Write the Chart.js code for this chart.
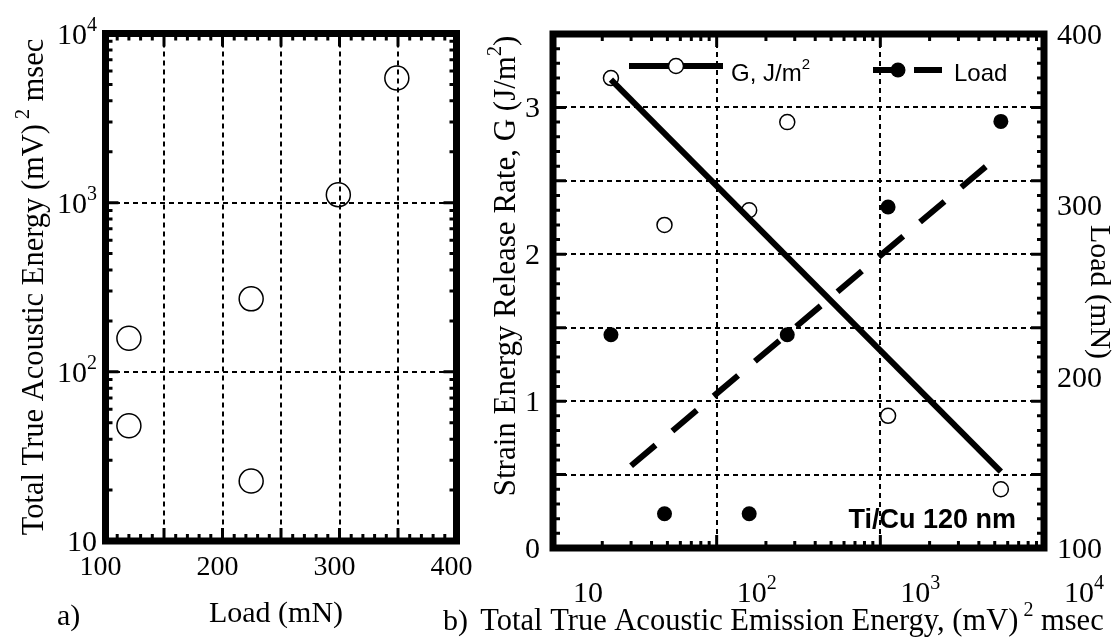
<!DOCTYPE html>
<html>
<head>
<meta charset="utf-8">
<script src="https://cdn.jsdelivr.net/npm/chart.js@4.4.1/dist/chart.umd.min.js"></script>
<style>
  body { margin: 0; background: #fff; width: 1119px; height: 639px; overflow: hidden; position: relative; }
  canvas { position: absolute; left: 0; top: 0; }
</style>
</head>
<body>
<canvas id="energy-chart" width="1119" height="639"></canvas>
<canvas id="g-chart" width="1119" height="639"></canvas>
<script>
// Ti/Cu 120 nm scratch tests
const loadMN = [120, 120, 224.5, 224.5, 299, 349];          // mN
const energy = [158, 48, 270, 22.6, 1115, 5450];            // (mV)^2 msec
const gValues = [2.30, 2.20, 2.90, 3.20, 0.90, 0.40];       // J/m^2

// fitted trends (log energy)
const gFitEnergy = [22.6, 5450];
const gFit = [3.19, 0.52];
const loadFitEnergy = [30, 5000];
const loadFit = [148, 327];

const loadTicks = [100, 200, 300, 400];
const energyTicks = [10, 100, 1000, 10000];
const gTicks = [0, 1, 2, 3];

const SERIF = '"Liberation Serif", "Times New Roman", serif';
const SANS = '"Liberation Sans", Arial, sans-serif';

// text with superscript pieces: parts = [[text, isSup], ...], y is the baseline
function drawRich(ctx, parts, x, y, o) {
  const size = o.size, supSize = o.supSize || Math.round(size * 0.65);
  const rise = o.rise || size * 0.42;
  const font = sup => `${o.weight || ''} ${sup ? supSize : size}px ${o.family}`;
  let width = 0;
  for (const [t, sup] of parts) { ctx.font = font(sup); width += ctx.measureText(t).width; }
  let cx = o.align === 'left' ? x : o.align === 'right' ? x - width : x - width / 2;
  ctx.textAlign = 'left';
  ctx.textBaseline = 'alphabetic';
  for (const [t, sup] of parts) {
    ctx.font = font(sup);
    ctx.fillText(t, cx, sup ? y - rise : y);
    cx += ctx.measureText(t).width;
  }
}

function rotated(ctx, x, y, angle, fn) {
  ctx.save();
  ctx.translate(x, y);
  ctx.rotate(angle);
  fn();
  ctx.restore();
}

function powerLabel(v) {
  if (v === 10) return [['10', false]];
  return [['10', false], [String(Math.round(Math.log10(v))), true]];
}

// inward tick marks: [value, length]
function logTicks(lo, hi, majors) {
  const out = [];
  for (let d = lo; d < hi; d *= 10) {
    for (let m = 1; m < 10; m++) {
      const v = d * m;
      if (v > lo && v < hi) out.push([v, majors.includes(v) ? 13 : 7]);
    }
  }
  return out;
}

function linTicks(lo, hi, step, majorStep) {
  const out = [];
  for (let i = 1; lo + i * step < hi - 1e-9; i++) {
    const v = lo + i * step;
    const r = v / majorStep;
    out.push([v, Math.abs(r - Math.round(r)) < 1e-6 ? 13 : 7]);
  }
  return out;
}

function framePlugin(cfg) {
  return {
    id: 'frame',
    afterDraw(chart) {
      const { ctx, chartArea: a, scales } = chart;
      ctx.save();
      ctx.strokeStyle = '#000';
      ctx.fillStyle = '#000';
      ctx.lineWidth = 3;
      ctx.beginPath();
      for (const [v, len] of cfg.xTicks) {
        const px = scales.x.getPixelForValue(v);
        ctx.moveTo(px, a.bottom); ctx.lineTo(px, a.bottom - len);
        ctx.moveTo(px, a.top); ctx.lineTo(px, a.top + len);
      }
      for (const [v, len] of cfg.yTicks) {
        const py = scales.y.getPixelForValue(v);
        ctx.moveTo(a.left, py); ctx.lineTo(a.left + len, py);
        ctx.moveTo(a.right, py); ctx.lineTo(a.right - len, py);
      }
      ctx.stroke();
      ctx.lineWidth = 7;
      ctx.strokeRect(a.left, a.top, a.right - a.left, a.bottom - a.top);
      cfg.text(ctx, chart);
      ctx.restore();
    }
  };
}

const noTicks = { display: false };
const zeroHeight = s => { s.height = 0; };
const zeroWidth = s => { s.width = 0; };
const dashedGrid = { color: '#000', lineWidth: 2, drawTicks: false };
const gridBorder = { display: false, dash: [5, 4] };

// a) energy vs load
new Chart(document.getElementById('energy-chart'), {
  type: 'scatter',
  data: {
    datasets: [{
      data: loadMN.map((l, i) => ({ x: l, y: energy[i] })),
      pointRadius: 12,
      pointBorderWidth: 1.5,
      pointBorderColor: '#000',
      pointBackgroundColor: 'rgba(0,0,0,0)'
    }]
  },
  options: {
    responsive: false,
    animation: false,
    events: [],
    layout: { padding: { left: 105.5, right: 662.5, top: 33.5, bottom: 98 } },
    plugins: { legend: { display: false }, tooltip: { enabled: false } },
    scales: {
      x: {
        type: 'linear', min: 100, max: 400,
        afterFit: zeroHeight,
        afterBuildTicks: s => { s.ticks = [150, 200, 250, 300, 350].map(value => ({ value })); },
        ticks: noTicks, grid: dashedGrid, border: gridBorder
      },
      y: {
        type: 'logarithmic', min: 10, max: 10000,
        afterFit: zeroWidth,
        afterBuildTicks: s => { s.ticks = [100, 1000].map(value => ({ value })); },
        ticks: noTicks, grid: dashedGrid, border: gridBorder
      }
    }
  },
  plugins: [framePlugin({
    xTicks: linTicks(100, 400, 10, 50),
    yTicks: logTicks(10, 10000, [100, 1000]),
    text(ctx, chart) {
      const { x, y } = chart.scales;
      for (const v of energyTicks) {
        drawRich(ctx, powerLabel(v), 97, y.getPixelForValue(v) + 10, { family: SERIF, size: 30, supSize: 20, rise: 13, align: 'right' });
      }
      for (const v of loadTicks) {
        drawRich(ctx, [[String(v), false]], x.getPixelForValue(v) - 5, 575, { family: SERIF, size: 28 });
      }
      drawRich(ctx, [['Load (mN)', false]], 276, 622, { family: SERIF, size: 30 });
      drawRich(ctx, [['a)', false]], 57, 625, { family: SERIF, size: 30, align: 'left' });
      rotated(ctx, 43, 287, -Math.PI / 2, () => {
        drawRich(ctx, [['Total True Acoustic Energy (mV)', false], [' 2', true], [' msec', false]], 0, 0,
          { family: SERIF, size: 30.5, supSize: 20, rise: 14 });
      });
    }
  })]
});

// b) strain energy release rate and load vs energy
new Chart(document.getElementById('g-chart'), {
  data: {
    datasets: [
      {
        type: 'line', data: gFitEnergy.map((e, i) => ({ x: e, y: gFit[i] })),
        borderColor: '#000', borderWidth: 6, pointRadius: 0, yAxisID: 'y'
      },
      {
        type: 'line', data: loadFitEnergy.map((e, i) => ({ x: e, y: loadFit[i] })),
        borderColor: '#000', borderWidth: 6, borderDash: [32, 22], borderCapStyle: 'butt',
        pointRadius: 0, yAxisID: 'y2'
      },
      {
        type: 'scatter', data: energy.map((e, i) => ({ x: e, y: gValues[i] })),
        pointRadius: 7.5, pointBorderWidth: 1.5, pointBorderColor: '#000',
        pointBackgroundColor: '#fff', yAxisID: 'y'
      },
      {
        type: 'scatter', data: energy.map((e, i) => ({ x: e, y: loadMN[i] })),
        pointRadius: 7.5, pointBorderWidth: 0, pointBackgroundColor: '#000', yAxisID: 'y2'
      }
    ]
  },
  options: {
    responsive: false,
    animation: false,
    events: [],
    layout: { padding: { left: 553, right: 75, top: 34, bottom: 91 } },
    plugins: { legend: { display: false }, tooltip: { enabled: false } },
    scales: {
      x: {
        type: 'logarithmic', min: 10, max: 10000,
        afterFit: zeroHeight,
        afterBuildTicks: s => { s.ticks = [100, 1000].map(value => ({ value })); },
        ticks: noTicks, grid: dashedGrid, border: gridBorder
      },
      y: {
        type: 'linear', position: 'left', min: 0, max: 3.5,
        afterFit: zeroWidth,
        afterBuildTicks: s => { s.ticks = [0.5, 1, 1.5, 2, 2.5, 3].map(value => ({ value })); },
        ticks: noTicks, grid: dashedGrid, border: gridBorder
      },
      y2: {
        type: 'linear', position: 'right', min: 100, max: 400,
        afterFit: zeroWidth,
        ticks: noTicks, grid: { display: false }, border: { display: false }
      }
    }
  },
  plugins: [framePlugin({
    xTicks: logTicks(10, 10000, [100, 1000]),
    yTicks: linTicks(0, 3.5, 0.1, 0.5),
    text(ctx, chart) {
      const { x, y, y2 } = chart.scales;
      const a = chart.chartArea;
      for (const v of gTicks) {
        drawRich(ctx, [[String(v), false]], 540, y.getPixelForValue(v) + 10, { family: SERIF, size: 30, align: 'right' });
      }
      for (const v of loadTicks) {
        drawRich(ctx, [[String(v), false]], 1057, y2.getPixelForValue(v) + 10, { family: SERIF, size: 30, align: 'left' });
      }
      for (const v of energyTicks) {
        // the base "10" is centred a little to the right of each decade
        const px = x.getPixelForValue(v) + 35;
        ctx.font = '30px ' + SERIF;
        const half = ctx.measureText('10').width / 2;
        drawRich(ctx, powerLabel(v), px - half, 602, { family: SERIF, size: 30, supSize: 20, rise: 13, align: 'left' });
      }
      drawRich(ctx, [['b)', false]], 443, 630, { family: SERIF, size: 30, align: 'left' });
      drawRich(ctx, [['Total True Acoustic Emission Energy, (mV)', false], [' 2', true], [' msec', false]], 792, 630,
        { family: SERIF, size: 30.5, supSize: 20, rise: 14 });
      rotated(ctx, 515, 266, -Math.PI / 2, () => {
        drawRich(ctx, [['Strain Energy Release Rate, G (J/m', false], ['2', true], [')', false]], 0, 0,
          { family: SERIF, size: 31, supSize: 20, rise: 14 });
      });
      rotated(ctx, 1091, 292, Math.PI / 2, () => {
        drawRich(ctx, [['Load (mN)', false]], 0, 0, { family: SERIF, size: 30 });
      });

      // legend
      ctx.lineWidth = 6;
      ctx.beginPath();
      ctx.moveTo(629, 66); ctx.lineTo(723, 66);
      ctx.moveTo(873, 70); ctx.lineTo(905, 70);
      ctx.moveTo(914, 70); ctx.lineTo(942, 70);
      ctx.stroke();
      ctx.lineWidth = 1.5;
      ctx.beginPath();
      ctx.arc(676, 66, 7.5, 0, Math.PI * 2);
      ctx.fillStyle = '#fff';
      ctx.fill();
      ctx.stroke();
      ctx.fillStyle = '#000';
      ctx.beginPath();
      ctx.arc(898, 70, 7.5, 0, Math.PI * 2);
      ctx.fill();
      drawRich(ctx, [['G, J/m', false], ['2', true]], 731, 81, { family: SANS, size: 24, supSize: 15, rise: 12, align: 'left' });
      drawRich(ctx, [['Load', false]], 954, 81, { family: SANS, size: 24, align: 'left' });

      drawRich(ctx, [['Ti/Cu 120 nm', false]], a.right - 28, 528, { family: SANS, size: 27, weight: 'bold', align: 'right' });
    }
  })]
});
</script>
</body>
</html>
